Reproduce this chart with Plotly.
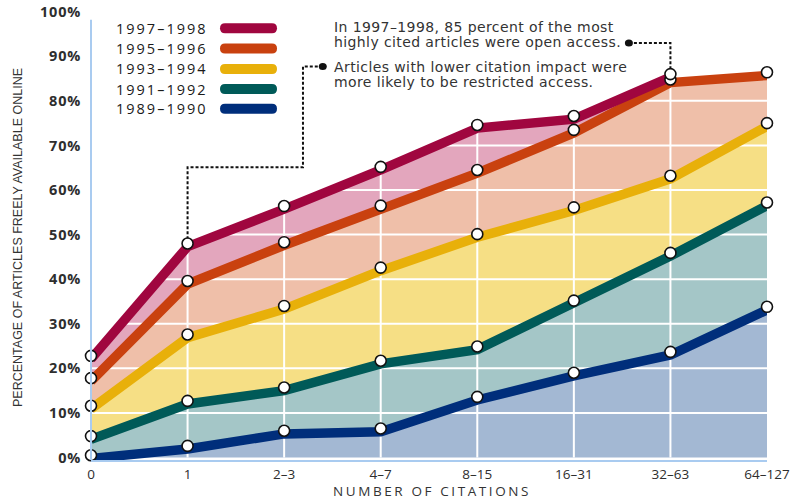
import plotly.graph_objects as go

# ---------------- data ----------------
CATEGORIES = ["0", "1", "2–3", "4–7", "8–15", "16–31", "32–63", "64–127"]
SERIES_NAMES = ["1989–1990", "1991–1992", "1993–1994", "1995–1996", "1997–1998"]
V_1989_1990 = [0.5, 2.6, 6.0, 6.5, 13.6, 19.0, 23.7, 33.8]
V_1991_1992 = [4.8, 12.7, 15.7, 21.7, 24.9, 35.2, 45.9, 57.2]
V_1993_1994 = [11.6, 27.6, 34.0, 42.6, 50.1, 56.1, 63.2, 75.0]
V_1995_1996 = [17.8, 39.6, 48.3, 56.5, 64.5, 73.5, 84.8, 86.4]
V_1997_1998 = [22.8, 48.0, 56.4, 65.2, 74.6, 76.6, 86.0, None]
Y_TICKS = [0, 10, 20, 30, 40, 50, 60, 70, 80, 90, 100]
Y_TICK_LABELS = ["0%", "10%", "20%", "30%", "40%", "50%", "60%", "70%", "80%", "90%", "100%"]

NOTE_TOP = ["In 1997–1998, 85 percent of the most", "highly cited articles were open access."]
NOTE_LOW = ["Articles with lower citation impact were", "more likely to be restricted access."]

# ---------------- styles ----------------
LINE_COLORS = ["#002E7B", "#005A58", "#E8B00A", "#C9410F", "#A0063F"]
FILL_COLORS = ["#A3B8D3", "#A4C6C7", "#F6DF85", "#EFBFA9", "#E3A6BD"]
AXIS_BLUE = "#A9CBF0"
TEXT = "#2e2e2e"
LINE_DROP = 0.7   # band sits just under the marker, as in the original

W, H = 791, 500
PLOT_L, PLOT_R, PLOT_T, PLOT_B = 91, 767, 10, 460        # page pixels
L, T = PLOT_L, PLOT_T
R, B = W - PLOT_R, H - PLOT_B
PW, PH = PLOT_R - PLOT_L, PLOT_B - PLOT_T


def pxx(x):
    return (x - PLOT_L) / PW


def pxy(y):
    return (PLOT_B - y) / PH


series = [V_1989_1990, V_1991_1992, V_1993_1994, V_1995_1996, V_1997_1998]
xs = list(range(len(CATEGORIES)))

fig = go.Figure()

# stacked fill regions
for i, s in enumerate(series):
    below = series[i - 1] if i > 0 else [0] * len(s)
    n = len([v for v in s if v is not None])
    xx = xs[:n] + xs[:n][::-1]
    yy = s[:n] + below[:n][::-1]
    fig.add_trace(go.Scatter(x=xx, y=yy, fill="toself", fillcolor=FILL_COLORS[i],
                             mode="none", hoverinfo="skip", showlegend=False))

# white grid over fills
gx, gy = [], []
for t in Y_TICKS[1:-1]:
    gx += [0, len(CATEGORIES) - 1, None]
    gy += [t, t, None]
for c in xs[1:-1]:
    gx += [c, c, None]
    gy += [0, 100, None]
fig.add_trace(go.Scatter(x=gx, y=gy, mode="lines", line=dict(color="white", width=2),
                         hoverinfo="skip", showlegend=False))

# thick bands
for i, s in enumerate(series):
    fig.add_trace(go.Scatter(x=xs, y=[None if v is None else v - LINE_DROP for v in s],
                             mode="lines", line=dict(color=LINE_COLORS[i], width=9.5),
                             hoverinfo="skip", showlegend=False, name=SERIES_NAMES[i]))

# point markers
for i, s in enumerate(series):
    fig.add_trace(go.Scatter(x=xs, y=s, mode="markers", cliponaxis=False,
                             marker=dict(symbol="circle", size=11, color="white",
                                         line=dict(color="#111", width=1.6)),
                             name=SERIES_NAMES[i], showlegend=False,
                             hovertemplate="%{y:.1f}%<extra>" + SERIES_NAMES[i] + "</extra>"))

shapes = []
annotations = []

# left axis line (stops short of the top, like the original)
shapes.append(dict(type="line", xref="paper", yref="y", x0=0, x1=0, y0=-0.56, y1=98.2,
                   line=dict(color=AXIS_BLUE, width=2)))

# custom legend (top to bottom: newest first)
legend_y = [28.3, 48.5, 69, 89, 108.7]
for k, idx in enumerate([4, 3, 2, 1, 0]):
    yc = legend_y[k]
    annotations.append(dict(xref="paper", yref="paper", x=pxx(210), y=pxy(yc),
                            xanchor="right", yanchor="middle", showarrow=False,
                            text='<span style="letter-spacing:2px">' + SERIES_NAMES[idx] + "</span>",
                            font=dict(family="Open Sans", size=14.5, color="#1a1a1a")))
    shapes.append(dict(type="path", xref="paper", yref="paper", xsizemode="pixel", ysizemode="pixel",
                       xanchor=pxx(220), yanchor=pxy(yc),
                       path="M 5,-5 L 52,-5 Q 57,-5 57,0 Q 57,5 52,5 L 5,5 Q 0,5 0,0 Q 0,-5 5,-5 Z",
                       fillcolor=LINE_COLORS[idx], line=dict(width=0)))

# notes text
note_font = dict(family="DejaVu Sans", size=14, color="#333")
for txt, yc in zip(NOTE_TOP + NOTE_LOW, [26.7, 41.9, 66.9, 82.0]):
    annotations.append(dict(xref="paper", yref="paper", x=pxx(332), y=pxy(yc),
                            xanchor="left", yanchor="middle", showarrow=False,
                            text='<span style="letter-spacing:0.4px">' + txt + "</span>",
                            font=note_font))

# dashed connectors (data coordinates)
dash = dict(color="#111", width=2, dash="3px,2px")
shapes.append(dict(type="path", xref="x", yref="y",
                   path=f"M 5.57,93.0 H 6 V {V_1997_1998[6] + 1.2}", line=dash))
shapes.append(dict(type="path", xref="x", yref="y",
                   path=f"M 2.40,87.7 H 2.195 V 65.1 H 1 V {V_1997_1998[1] + 1.2}", line=dash))
for (dx, dy) in [(5.57, 93.0), (2.40, 87.7)]:
    shapes.append(dict(type="circle", xref="x", yref="y", xsizemode="pixel", ysizemode="pixel",
                       xanchor=dx, yanchor=dy, x0=-4, x1=4, y0=-3.5, y1=3.5,
                       fillcolor="#111", line=dict(width=0)))

# axis titles
annotations.append(dict(xref="paper", yref="paper", x=pxx(18), y=pxy(238), textangle=-90,
                        xanchor="center", yanchor="middle", showarrow=False,
                        text="PERCENTAGE OF ARTICLES FREELY AVAILABLE ONLINE",
                        font=dict(family="Liberation Sans", size=12.5, color="#333")))
annotations.append(dict(xref="paper", yref="paper", x=pxx(432), y=pxy(491),
                        xanchor="center", yanchor="middle", showarrow=False,
                        text='<span style="letter-spacing:2.6px">NUMBER OF CITATIONS</span>',
                        font=dict(family="Open Sans", size=13.5, color="#333")))

y_tick_text = ['<span style="letter-spacing:0.8px">' + t + "</span>" for t in Y_TICK_LABELS]

fig.update_layout(
    width=W, height=H,
    margin=dict(l=L, r=R, t=T, b=B, pad=0, autoexpand=False),
    paper_bgcolor="white", plot_bgcolor="white",
    showlegend=False,
    shapes=shapes, annotations=annotations,
    xaxis=dict(range=[0, 7], tickmode="array", tickvals=xs, ticktext=CATEGORIES, automargin=False,
               showgrid=False, zeroline=False, showline=True, linecolor=AXIS_BLUE, linewidth=2,
               ticks="outside", ticklen=1, tickcolor="rgba(0,0,0,0)", ticklabeloverflow="allow",
               tickfont=dict(family="Open Sans", size=13.5, color=TEXT), fixedrange=True),
    yaxis=dict(range=[-0.56, 100.38], tickmode="array", tickvals=Y_TICKS, ticktext=y_tick_text,
               automargin=False, ticklabeloverflow="allow",
               showgrid=False, zeroline=False, showline=False,
               ticks="outside", ticklen=6, tickcolor="rgba(0,0,0,0)",
               tickfont=dict(family="Open Sans", size=14.5, color=TEXT, weight=700), fixedrange=True),
)

# remove the browser's default 8px body margin so the figure fills the window exactly
fig.write_html("out.html", config={"displayModeBar": False},
               post_script="document.body.style.margin='0';document.body.style.overflow='hidden';")
